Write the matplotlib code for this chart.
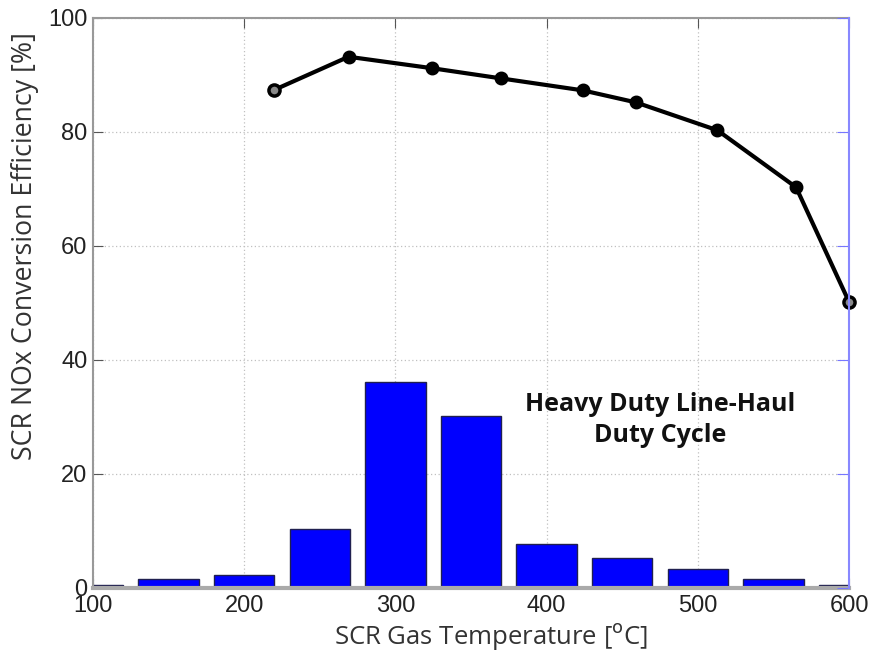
import numpy as np
import matplotlib.pyplot as plt

# temperature bins of the duty cycle histogram [degC] and time share [%]
bin_centers = [100, 150, 200, 250, 300, 350, 400, 450, 500, 550, 600]
time_share = [0.5, 1.5, 2.2, 10.3, 36.2, 30.2, 7.8, 5.2, 3.3, 1.5, 0.5]

# SCR conversion efficiency curve
eff_temp = [220, 269, 324, 370, 424, 459, 513, 565, 600]
eff_value = [87.4, 93.2, 91.2, 89.4, 87.3, 85.2, 80.3, 70.3, 50.2]

x_ticks = [100, 200, 300, 400, 500, 600]
y_ticks = [0, 20, 40, 60, 80, 100]

fig = plt.figure(figsize=(8.71, 6.55), dpi=100)
ax = fig.add_axes([93 / 871, 1 - 588 / 655, (849 - 93) / 871, (588 - 18) / 655])

ax.bar(bin_centers, time_share, width=40, color='#0000ff',
       edgecolor='#202050', linewidth=1.0, zorder=2)

# curve with filled inner markers, open markers at both ends
ax.plot(eff_temp, eff_value, color='black', linewidth=3,
        marker='o', markersize=8, markerfacecolor='black',
        markeredgewidth=2, markevery=slice(1, -1), zorder=3)
ax.plot(eff_temp, eff_value, linestyle='none', marker='o', markersize=8,
        markerfacecolor='#888888', markeredgecolor='black',
        markeredgewidth=2.5, markevery=[0, len(eff_temp) - 1], zorder=4,
        clip_on=False)

ax.set_xlim(100, 600)
ax.set_ylim(0, 100)
ax.set_xticks(x_ticks)
ax.set_yticks(y_ticks)

tick_font = dict(family='Liberation Sans', size=17, color='#222222')
ax.set_xticklabels([str(v) for v in x_ticks], fontdict=tick_font)
ax.set_yticklabels([str(v) for v in y_ticks], fontdict=tick_font)
ax.tick_params(axis='x', direction='in', length=7, color='#555555', pad=5,
               top=True)
ax.tick_params(axis='y', direction='in', length=7, color='#555555', pad=4,
               right=False)

ax.grid(True, linestyle=(0, (1, 2)), color='#c0c0c0', linewidth=0.9, zorder=0)
ax.set_axisbelow(True)

for side in ['left', 'top']:
    ax.spines[side].set_color('#999999')
    ax.spines[side].set_linewidth(1.5)
ax.spines['bottom'].set_color('#aaaaaa')
ax.spines['bottom'].set_linewidth(3)
ax.spines['right'].set_visible(False)

# right axis only carries the blue spine and ticks
ax2 = ax.twinx()
ax2.set_ylim(0, 100)
ax2.set_yticks(y_ticks)
ax2.set_yticklabels([])
ax2.tick_params(direction='in', length=9, color='#7777ff')
ax2.spines['right'].set_color('#8888ff')
ax2.spines['right'].set_linewidth(1.5)
for side in ['left', 'top', 'bottom']:
    ax2.spines[side].set_visible(False)

ax.set_xlabel('SCR Gas Temperature [$^{\\mathrm{o}}$C]', family='Open Sans',
              fontsize=18.5, color='#333333')
ax.set_ylabel('SCR NOx Conversion Efficiency [%]', family='Open Sans',
              fontsize=19.3, color='#333333', va='center')
ax.xaxis.set_label_coords(0.527, -0.058)
ax.yaxis.set_label_coords(-0.09, 0.60)

ax.text(475, 29.5, 'Heavy Duty Line-Haul\nDuty Cycle', ha='center', va='center',
        family='Open Sans', fontweight='bold', fontsize=18, color='#111111',
        linespacing=1.32, zorder=4)

fig.savefig('out.png', dpi=100)
